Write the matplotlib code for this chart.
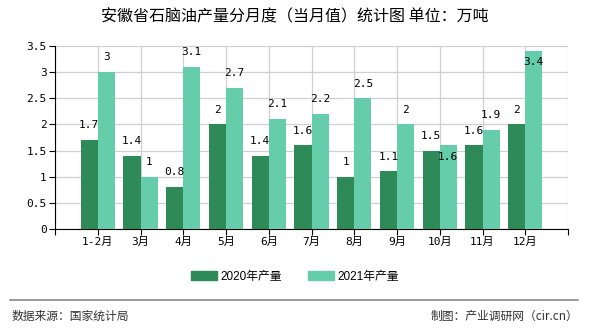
import numpy as np
import matplotlib
matplotlib.use("Agg")
import matplotlib.pyplot as plt
from matplotlib.lines import Line2D

months = ["1-2月", "3月", "4月", "5月", "6月", "7月", "8月", "9月", "10月", "11月", "12月"]
y2020 = [1.7, 1.4, 0.8, 2, 1.4, 1.6, 1, 1.1, 1.5, 1.6, 2]
y2021 = [3, 1, 3.1, 2.7, 2.1, 2.2, 2.5, 2, 1.6, 1.9, 3.4]
yticks = [0, 0.5, 1, 1.5, 2, 2.5, 3, 3.5]

c2020 = "#2e8b57"
c2021 = "#66cdaa"
mono = ["DejaVu Sans Mono", "Noto Sans CJK SC"]
sans = ["Liberation Sans", "Noto Sans CJK SC"]

fig = plt.figure(figsize=(5.9, 3.3), dpi=100)
ax = fig.add_axes([55/590, 1-229/330, 513/590, 183/330])

x = np.arange(len(months))
w = 0.4
ax.bar(x - w/2, y2020, w, color=c2020, zorder=3)
ax.bar(x + w/2, y2021, w, color=c2021, zorder=3)

# value labels (echarts nudges a couple of them)
for i, v in enumerate(y2020):
    ax.annotate(f"{v:g}", (x[i] - w/2, v), xytext=(0, 7), textcoords="offset points",
                ha="center", va="bottom", fontsize=8, family=mono, zorder=5)
for i, v in enumerate(y2021):
    off = 7
    if months[i] == "10月":
        off = -12
    if months[i] == "12月":
        off = -11
    ax.annotate(f"{v:g}", (x[i] + w/2, v), xytext=(0, off), textcoords="offset points",
                ha="center", va="bottom", fontsize=8, family=mono, zorder=5)

ax.set_xlim(-1, len(months))
ax.set_ylim(0, 3.5)
ax.set_yticks(yticks)
ax.set_yticklabels([f"{t:g}" for t in yticks], family=mono, fontsize=8)
ax.set_xticks(list(x) + [-1, len(months)])
ax.set_xticklabels(months + ["", ""], family=mono, fontsize=8)
ax.tick_params(axis="both", length=4, color="black", pad=2)
ax.grid(True, color="#d0d0d0", lw=0.9, zorder=0)
for s in ["top", "right"]:
    ax.spines[s].set_visible(False)
ax.spines["left"].set_color("black")
ax.spines["bottom"].set_color("black")

fig.text(0.5, 1-17/330, "安徽省石脑油产量分月度（当月值）统计图 单位：万吨",
         ha="center", va="center", fontsize=11.5, family=["Noto Sans CJK SC"])

handles = [plt.Rectangle((0, 0), 1, 1, color=c2020), plt.Rectangle((0, 0), 1, 1, color=c2021)]
fig.legend(handles, ["2020年产量", "2021年产量"], loc="center", bbox_to_anchor=(0.5, 1-277/330),
           ncol=2, frameon=False, prop={"family": sans, "size": 8.5},
           handlelength=2.2, handleheight=0.8, handletextpad=0.3, columnspacing=2.2)

fig.add_artist(Line2D([10/590, 578/590], [1-300/330, 1-300/330], color="#888888", lw=1.2))
fig.text(12/590, 1-316/330, "数据来源：国家统计局", ha="left", va="center",
         fontsize=8.5, family=["Noto Sans CJK SC"], color="#333333")
fig.text(578/590, 1-316/330, "制图：产业调研网（cir.cn）", ha="right", va="center",
         fontsize=8.5, family=["Noto Sans CJK SC"], color="#333333")

fig.savefig("out.png", dpi=100)
